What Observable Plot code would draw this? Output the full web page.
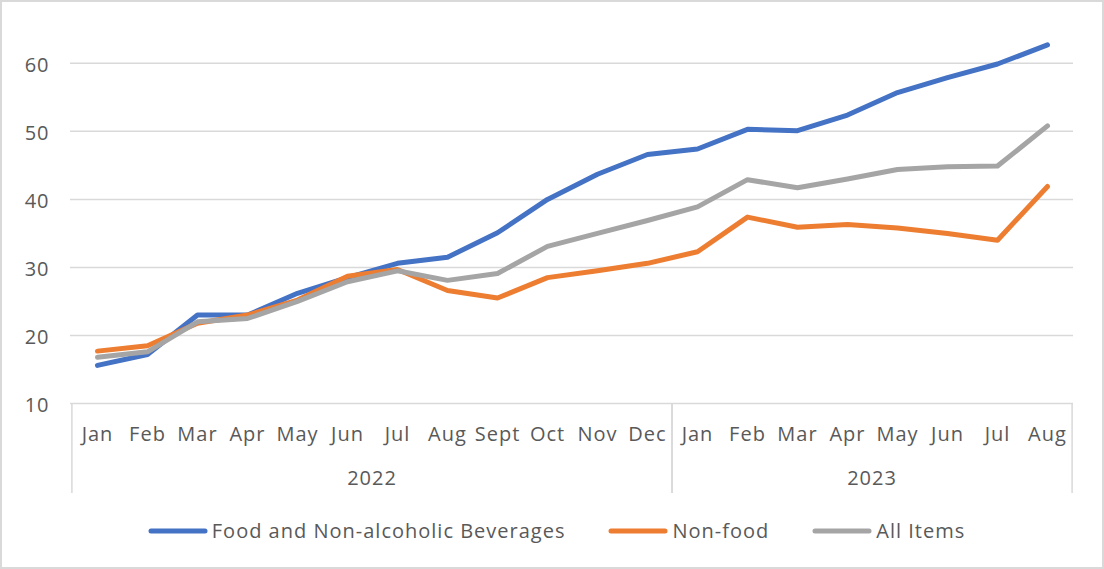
<!DOCTYPE html>
<html><head><meta charset="utf-8">
<script src="https://cdn.jsdelivr.net/npm/d3@7"></script>
<script src="https://cdn.jsdelivr.net/npm/@observablehq/plot@0.6"></script>
<style>
body{margin:0;background:#fff}
#frame{position:absolute;left:0;top:0;width:1104px;height:569px;box-sizing:border-box;border:2px solid #d9d9d9;background:#fff;font-family:"Open Sans",sans-serif;overflow:hidden}
#chart{position:absolute;left:0;top:0}
#legend{position:absolute;left:0;top:515px;width:1100px;box-sizing:border-box;padding-left:8px;display:flex;justify-content:center;align-items:center;color:#595959;font-size:20px;letter-spacing:1px;font-family:"Open Sans",sans-serif}
.item{display:flex;align-items:center;margin:0 21px}
.item svg{margin-right:3px}
</style></head><body><div id="frame"><div id="chart"></div><div id="legend"></div></div>
<script>
const years = ["2022", "2023"];
const months2022 = ["Jan","Feb","Mar","Apr","May","Jun","Jul","Aug","Sept","Oct","Nov","Dec"];
const months2023 = ["Jan","Feb","Mar","Apr","May","Jun","Jul","Aug"];
const seriesNames = ["Food and Non-alcoholic Beverages", "Non-food", "All Items"];
const seriesColors = ["#4472C4", "#ED7D31", "#A5A5A5"];
const food     = [15.6, 17.2, 23.0, 23.0, 26.2, 28.5, 30.6, 31.5, 35.1, 40.0, 43.7, 46.6, 47.4, 50.3, 50.1, 52.4, 55.7, 57.9, 59.9, 62.7];
const nonFood  = [17.7, 18.5, 21.8, 23.0, 25.2, 28.7, 29.7, 26.6, 25.5, 28.5, 29.5, 30.6, 32.3, 37.4, 35.9, 36.3, 35.8, 35.0, 34.0, 41.9];
const allItems = [16.8, 17.6, 22.0, 22.5, 25.0, 27.9, 29.5, 28.1, 29.1, 33.1, 35.0, 36.9, 38.9, 42.9, 41.7, 43.0, 44.4, 44.8, 44.9, 50.8];
const yTicks = [10, 20, 30, 40, 50, 60];

const cats = [
  ...months2022.map(m => ({key: "2022 " + m, month: m, year: years[0]})),
  ...months2023.map(m => ({key: "2023 " + m, month: m, year: years[1]}))
];
const keys = cats.map(c => c.key);
const monthOf = Object.fromEntries(cats.map(c => [c.key, c.month]));
const seriesValues = [food, nonFood, allItems];
const rows = [];
seriesNames.forEach((s, i) => cats.forEach((c, j) => rows.push({key: c.key, series: s, value: seriesValues[i][j]})));

const W = 1100, H = 500;
const mL = 68, mR = 29;

const groupMark = (index, scales, values, dims) => {
  const g = d3.create("svg:g");
  const step = (dims.width - dims.marginLeft - dims.marginRight) / keys.length;
  const y0 = scales.y(10);
  const bounds = [];
  years.forEach(yr => {
    const ks = cats.filter(c => c.year === yr).map(c => c.key);
    const a = scales.x(ks[0]) - step / 2, b = scales.x(ks[ks.length - 1]) + step / 2;
    bounds.push(a, b);
    g.append("text").attr("x", (a + b) / 2).attr("y", y0 + 77)
      .attr("text-anchor", "middle").attr("dominant-baseline", "middle")
      .attr("fill", "#595959").attr("font-size", 20).text(yr);
  });
  [...new Set(bounds.map(v => Math.round(v * 10) / 10))].forEach(x => {
    g.append("line").attr("x1", x).attr("x2", x).attr("y1", y0).attr("y2", y0 + 90)
      .attr("stroke", "#d9d9d9").attr("stroke-width", 1.5);
  });
  return g.node();
};

const chart = Plot.plot({
  width: W, height: H,
  marginLeft: mL, marginRight: mR, marginTop: 20, marginBottom: 99,
  style: {fontFamily: "Open Sans, sans-serif", fontSize: "20px", letterSpacing: "1px", color: "#595959", background: "transparent"},
  x: {type: "point", domain: keys, padding: 0.5, label: null},
  y: {domain: [10, 66], label: null},
  color: {domain: seriesNames, range: seriesColors},
  marks: [
    Plot.gridY(yTicks, {stroke: "#d9d9d9", strokeOpacity: 1, strokeWidth: 1.5}),
    Plot.axisY(yTicks, {tickSize: 0, tickPadding: 21, dy: 2, label: null}),
    Plot.axisX({tickSize: 0, tickPadding: 23, tickFormat: k => monthOf[k], label: null}),
    groupMark,
    Plot.line(rows, {x: "key", y: "value", z: "series", stroke: "series", strokeWidth: 5, strokeLinejoin: "round", strokeLinecap: "round"})
  ]
});
document.getElementById("chart").append(chart);

const legend = document.getElementById("legend");
seriesNames.forEach((s, i) => {
  const item = document.createElement("div");
  item.className = "item";
  item.innerHTML = `<svg width="62" height="8"><line x1="4" x2="58" y1="4" y2="4" stroke="${seriesColors[i]}" stroke-width="5" stroke-linecap="round"/></svg><span>${s}</span>`;
  legend.append(item);
});
</script></body></html>
